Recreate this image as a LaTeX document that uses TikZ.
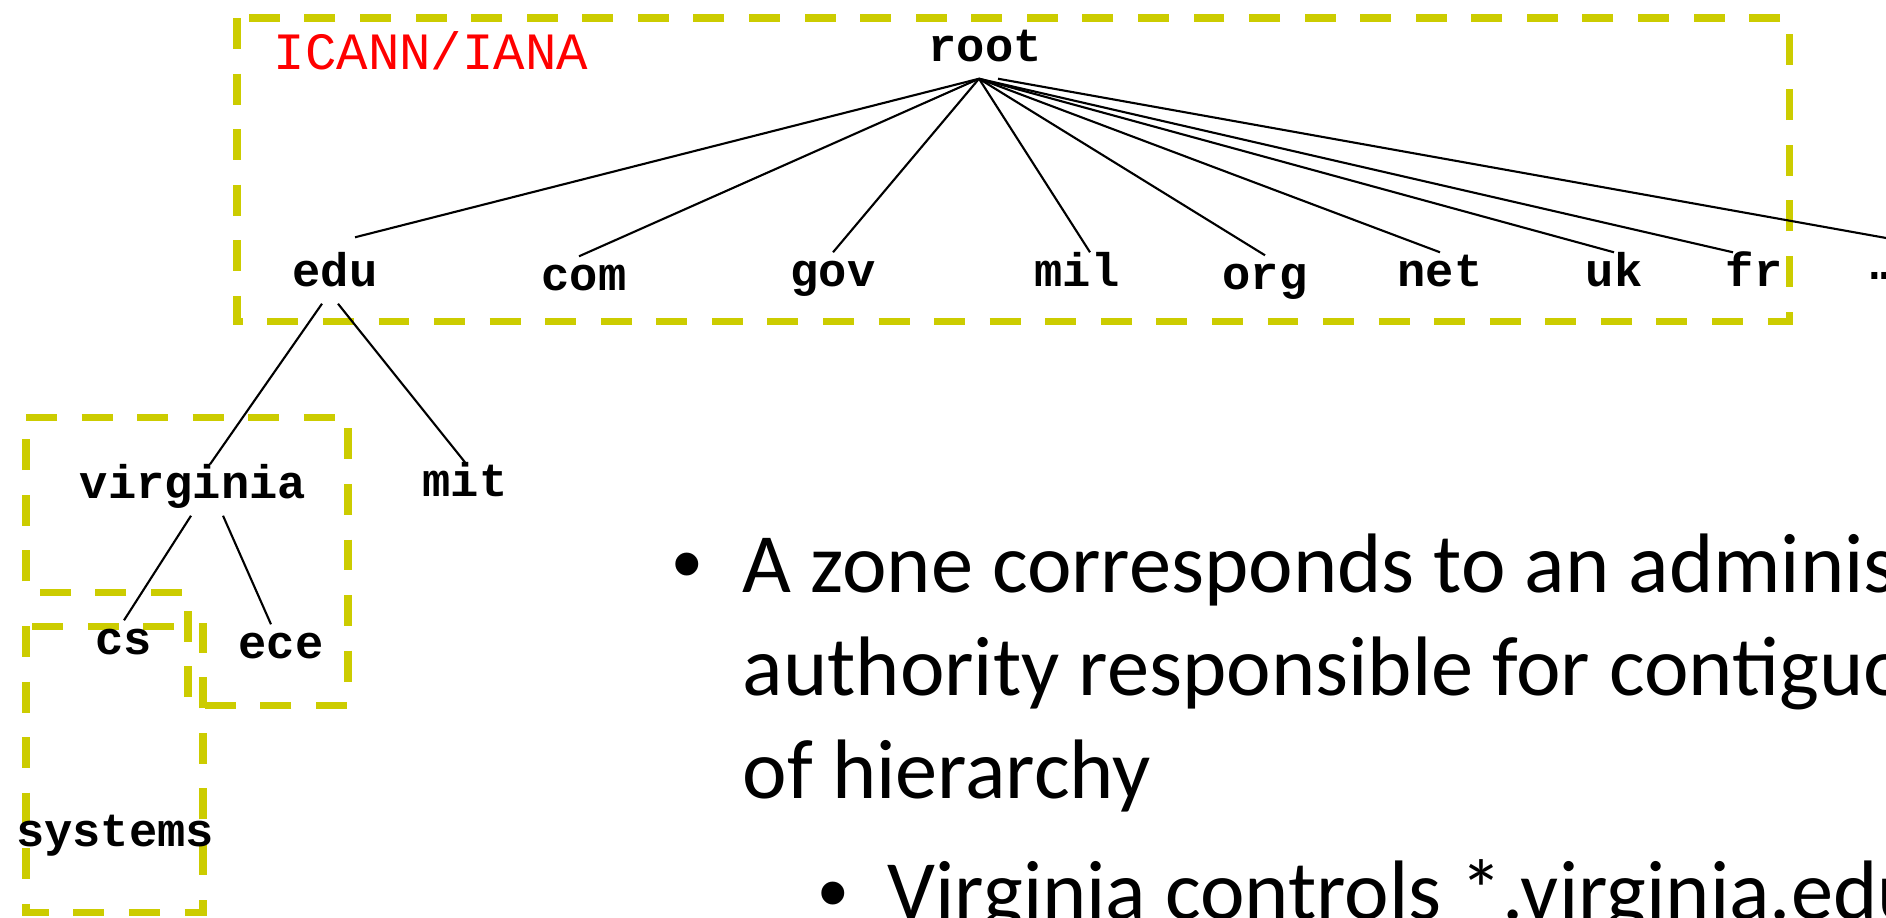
\documentclass[tikz,border=0pt]{standalone}
\usepackage{fontspec}
\setmainfont{Carlito}
\setmonofont{Liberation Mono}
\newfontfamily\bulletfont{Liberation Sans}
\usepackage{tikz}
\definecolor{zoneyellow}{RGB}{204,204,0}

\begin{document}
\begin{tikzpicture}[x=0.01cm,y=-0.01cm,
  dom/.style={font=\fontsize{13.4}{14}\selectfont\ttfamily\bfseries, inner sep=0pt, anchor=base, text height=0.33cm, text depth=0.17cm},
  zone/.style={draw=zoneyellow, line width=2pt, dash pattern=on 8.8pt off 7pt},
  link/.style={line width=0.6pt},
  bodytext/.style={font=\fontsize{24}{29}\selectfont, inner sep=0pt, anchor=base west},
  bulletmark/.style={font=\fontsize{24}{29}\bulletfont, inner sep=0pt, anchor=base}]
\useasboundingbox (0,0) rectangle (1886,917);
\clip (0,0) rectangle (1886,917);
% zones
\draw[zone] (237,18) rectangle (1789,321);
\draw[zone] (26,417) -- (348,417) -- (348,705) -- (188,705) -- (188,592) -- (26,592) -- cycle;
\draw[zone] (26,626) rectangle (203,912);
\node[font=\fontsize{14.9}{16}\selectfont\ttfamily, text=red, inner sep=0pt, anchor=base west] (icann) at (273,69) {ICANN/IANA};
% tree
\node[dom] (root) at (985,61) {root};
\node[dom] (edu) at (335,286) {edu};
\node[dom] (com) at (584,290) {com};
\node[dom] (gov) at (833,286) {gov};
\node[dom] (mil) at (1077,286) {mil};
\node[dom] (org) at (1265,289) {org};
\node[dom] (net) at (1440,286) {net};
\node[dom] (uk) at (1614,286) {uk};
\node[dom] (fr) at (1754,286) {fr};
\node[dom] (more) at (1885,279) {…};
\coordinate (morelink) at (1981,255);
\node[dom] (virginia) at (193,498) {virginia};
\node[dom] (mit) at (465,496) {mit};
\node[dom] (cs) at (124,654) {cs};
\node[dom] (ece) at (281,658) {ece};
\node[dom] (systems) at (115,846) {systems};
\draw[link] ([xshift=-0.06cm]root.south) -- ([xshift=0.2cm,yshift=0.15cm]edu.north);
\draw[link] ([xshift=-0.06cm]root.south) -- ([xshift=-0.05cm]com.north);
\draw[link] ([xshift=-0.06cm]root.south) -- (gov.north);
\draw[link] ([xshift=-0.06cm]root.south) -- ([xshift=0.13cm]mil.north);
\draw[link] ([xshift=-0.06cm]root.south) -- (org.north);
\draw[link] ([xshift=-0.06cm]root.south) -- (net.north);
\draw[link] ([xshift=-0.06cm]root.south) -- (uk.north);
\draw[link] ([xshift=-0.06cm]root.south) -- ([xshift=-0.21cm]fr.north);
\draw[link] ([xshift=0.13cm]root.south) -- (morelink);
\draw[link] ([xshift=-0.13cm]edu.south) -- ([xshift=0.17cm]virginia.north);
\draw[link] ([xshift=0.03cm]edu.south) -- (mit.north);
\draw[link] ([xshift=-0.02cm]virginia.south) -- (cs.north);
\draw[link] ([xshift=0.3cm]virginia.south) -- ([xshift=-0.1cm]ece.north);
% bullets
\node[bulletmark] (b1) at (687,592) {•};
\node[bodytext] (line1) at (742,592) {A zone corresponds to an administrative};
\node[bodytext] (line2) at (742,695) {authority responsible for contiguous portion};
\node[bodytext] (line3) at (742,798) {of hierarchy};
\node[bulletmark] (b2) at (833,921) {•};
\node[bodytext] (sub1) at (887,919) {Virginia controls *.virginia.edu};
\end{tikzpicture}
\end{document}
